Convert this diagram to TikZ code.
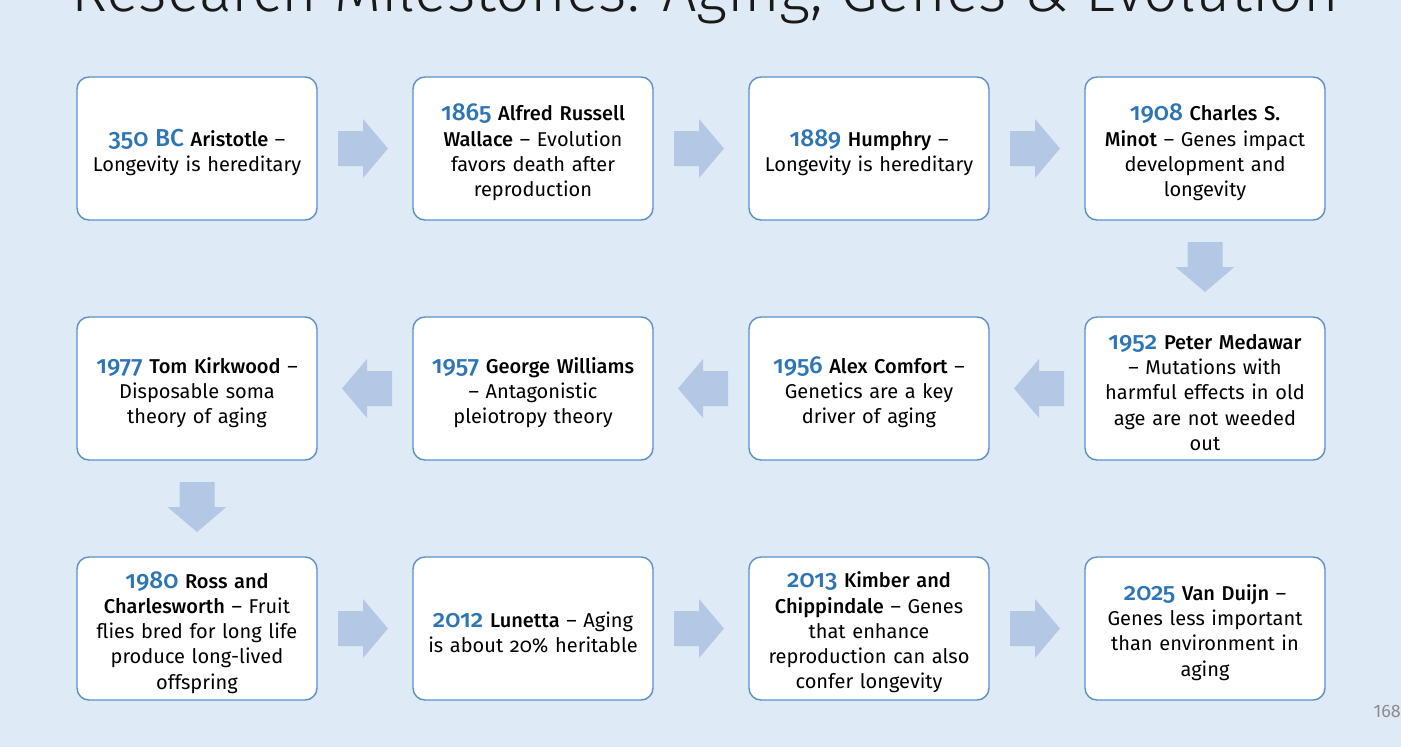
\documentclass[tikz,border=0pt]{standalone}
\usepackage{fontspec}
\setmainfont{Fira Sans}[Numbers=OldStyle, BoldFont={Fira Sans Medium}, BoldFeatures={Numbers=OldStyle}]
\newfontfamily\titlefont{Fira Sans Light}
\newfontfamily\pagefont{Fira Sans}[Numbers=Lining]
\newfontfamily\yearfont{Fira Sans Medium}[Numbers=OldStyle]
\usetikzlibrary{calc}
\definecolor{bgc}{HTML}{DEEAF6}
\definecolor{boxline}{HTML}{5E8FCB}
\definecolor{arrowc}{HTML}{B4C8E6}
\definecolor{yearc}{HTML}{2E75B6}
\definecolor{pagec}{HTML}{8C8C8C}
\newcommand\yr[1]{{\yearfont\fontsize{24.5}{25}\selectfont\color{yearc}#1}}
\newcommand\nm[1]{\textbf{#1}}
\tikzset{
  mbox/.style={draw=boxline, line width=1.4pt, fill=white, rounded corners=12pt,
    minimum width=240pt, minimum height=143pt, inner sep=0pt},
  mtext/.style={align=center, text width=228pt, inner sep=0pt,
    font=\fontsize{20}{25.2}\selectfont, text=black, yshift=-4pt},
  pics/blockarrow/.style={code={\fill[arrowc] (-25,-17.5) -- (0,-17.5) -- (0,-29.5) -- (25,0) -- (0,29.5) -- (0,17.5) -- (-25,17.5) -- cycle;}}
}
\begin{document}
\begin{tikzpicture}[x=1pt,y=-1pt]
\fill[bgc] (0,0) rectangle (1401,747);
\useasboundingbox (0,0) rectangle (1401,747);
\node[anchor=base, font=\titlefont\fontsize{61}{66}\selectfont, text=black!90] (title) at (705,11) {Research Milestones: Aging, Genes \& Evolution};
% boxes
\node[mbox] (b1) at (197,148.5) {};
\node[mbox] (b2) at (533,148.5) {};
\node[mbox] (b3) at (869,148.5) {};
\node[mbox] (b4) at (1205,148.5) {};
\node[mbox] (b5) at (1205,388.5) {};
\node[mbox] (b6) at (869,388.5) {};
\node[mbox] (b7) at (533,388.5) {};
\node[mbox] (b8) at (197,388.5) {};
\node[mbox] (b9) at (197,628.5) {};
\node[mbox] (b10) at (533,628.5) {};
\node[mbox] (b11) at (869,628.5) {};
\node[mbox] (b12) at (1205,628.5) {};
% texts
\node[mtext] (t1) at (b1.center) {\yr{350 BC} \nm{Aristotle} –\\ Longevity is hereditary};
\node[mtext] (t2) at (b2.center) {\yr{1865} \nm{Alfred Russell}\\ \nm{Wallace} – Evolution\\ favors death after\\ reproduction};
\node[mtext] (t3) at (b3.center) {\yr{1889} \nm{Humphry} –\\ Longevity is hereditary};
\node[mtext] (t4) at (b4.center) {\yr{1908} \nm{Charles S.}\\ \nm{Minot} – Genes impact\\ development and\\ longevity};
\node[mtext] (t5) at (b5.center) {\yr{1952} \nm{Peter Medawar}\\ – Mutations with\\ harmful effects in old\\ age are not weeded\\ out};
\node[mtext] (t6) at (b6.center) {\yr{1956} \nm{Alex Comfort} –\\ Genetics are a key\\ driver of aging};
\node[mtext] (t7) at (b7.center) {\yr{1957} \nm{George Williams}\\ – Antagonistic\\ pleiotropy theory};
\node[mtext] (t8) at (b8.center) {\yr{1977} \nm{Tom Kirkwood} –\\ Disposable soma\\ theory of aging};
\node[mtext] (t9) at (b9.center) {\yr{1980} \nm{Ross and}\\ \nm{Charlesworth} – Fruit\\ flies bred for long life\\ produce long-lived\\ offspring};
\node[mtext] (t10) at (b10.center) {\yr{2012} \nm{Lunetta} – Aging\\ is about 20\% heritable};
\node[mtext] (t11) at (b11.center) {\yr{2013} \nm{Kimber and}\\ \nm{Chippindale} – Genes\\ that enhance\\ reproduction can also\\ confer longevity};
\node[mtext] (t12) at (b12.center) {\yr{2025} \nm{Van Duijn} –\\ Genes less important\\ than environment in\\ aging};
% arrows
\pic at ($(b1.east)!0.5!(b2.west)+(-2,0)$) {blockarrow};
\pic at ($(b2.east)!0.5!(b3.west)+(-2,0)$) {blockarrow};
\pic at ($(b3.east)!0.5!(b4.west)+(-2,0)$) {blockarrow};
\pic[rotate=-90] at ($(b4.south)!0.5!(b5.north)+(0,-1.5)$) {blockarrow};
\pic[rotate=180] at ($(b5.west)!0.5!(b6.east)+(2,0)$) {blockarrow};
\pic[rotate=180] at ($(b6.west)!0.5!(b7.east)+(2,0)$) {blockarrow};
\pic[rotate=180] at ($(b7.west)!0.5!(b8.east)+(2,0)$) {blockarrow};
\pic[rotate=-90] at ($(b8.south)!0.5!(b9.north)+(0,-1.5)$) {blockarrow};
\pic at ($(b9.east)!0.5!(b10.west)+(-2,0)$) {blockarrow};
\pic at ($(b10.east)!0.5!(b11.west)+(-2,0)$) {blockarrow};
\pic at ($(b11.east)!0.5!(b12.west)+(-2,0)$) {blockarrow};
\node[anchor=base east, inner sep=0pt, font=\pagefont\fontsize{18}{20}\selectfont, text=pagec] (page) at (1401,717) {168};
\end{tikzpicture}
\end{document}
